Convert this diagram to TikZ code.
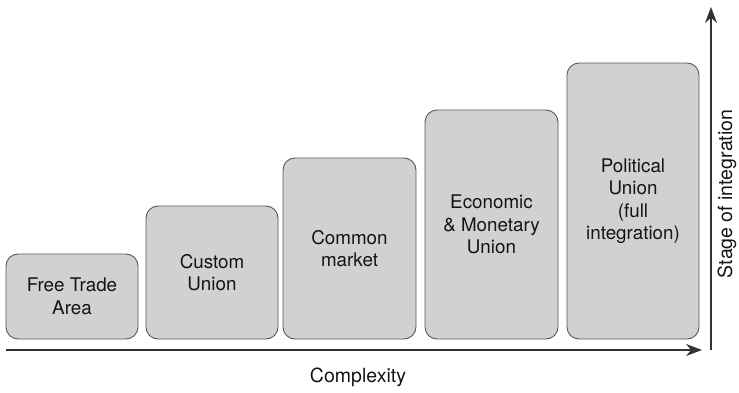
\documentclass[tikz,border=0pt]{standalone}
\usepackage{fontspec}
\setmainfont{TeX Gyre Heros}
\usetikzlibrary{arrows.meta}
\begin{document}
\begin{tikzpicture}[x=1pt,y=1pt,
  stage/.style={draw=black!65, fill=black!18, line width=0.9pt, rounded corners=12pt,
    align=center, font=\fontsize{18.8}{22.5}\selectfont, text=black!92, inner sep=0pt},
  axis/.style={draw=black!80, line width=1.4pt, -{Stealth[length=16pt,width=12pt]}},
  lab/.style={font=\fontsize{19.5}{22}\selectfont, text=black!92}]
\useasboundingbox (0,0) rectangle (739,392);
\node[stage, minimum width=132pt, minimum height=85pt] (fta) at (72,95.5) {Free Trade\\Area};
\node[stage, minimum width=132pt, minimum height=133pt] (cu) at (212,119.5) {Custom\\Union};
\node[stage, minimum width=133pt, minimum height=181pt] (cm) at (349.5,143.5) {Common\\market};
\node[stage, minimum width=133pt, minimum height=229pt] (emu) at (491.5,167.5) {Economic\\\& Monetary\\Union};
\node[stage, minimum width=132pt, minimum height=276pt] (pu) at (633,191) {Political\\Union\\(full\\integration)};
\coordinate (ho) at (6,42);
\coordinate (he) at (702,42);
\coordinate (vo) at (711,42);
\coordinate (ve) at (711,385);
\draw[axis] (ho) -- (he);
\draw[axis] (vo) -- (ve);
\node[lab] (cx) at (358,15) {Complexity};
\node[lab, rotate=90] (si) at (727,198) {Stage of integration};
\end{tikzpicture}
\end{document}
